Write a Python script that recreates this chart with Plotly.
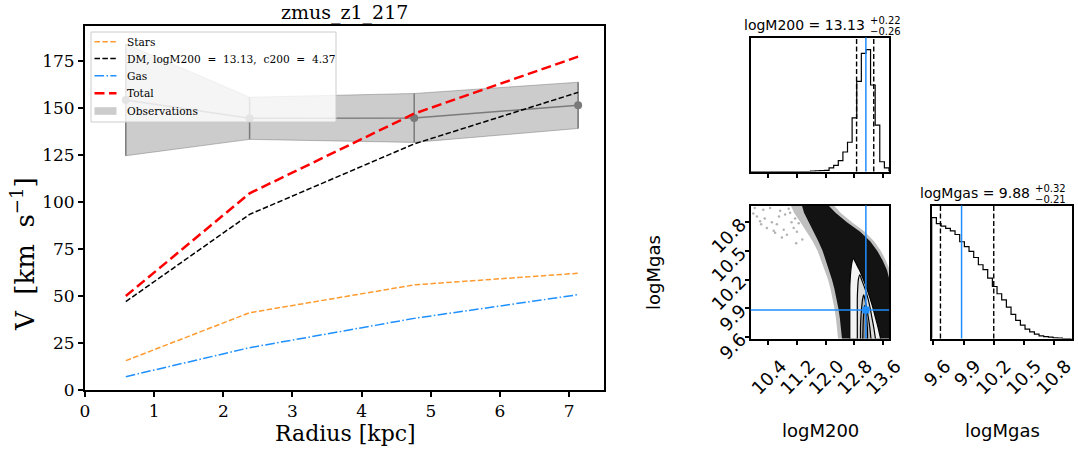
import numpy as np
import plotly.graph_objects as go

# ---------------- rotation curve (left panel) ----------------
radius = [0.59, 2.38, 4.76, 7.13]
v_stars = [15.6, 41.1, 55.9, 62.1]
v_dm = [47.0, 93.4, 130.9, 158.3]
v_gas = [7.1, 22.5, 38.1, 50.7]
v_total = [50.0, 104.6, 147.0, 177.3]
v_obs = [154.3, 144.5, 144.7, 151.4]
v_obs_err = [29.7, 11.2, 13.0, 12.3]
galaxy_name = "zmus_z1_217"
c200 = 4.37

# ---------------- posterior summaries ----------------
logm200_med, logm200_plus, logm200_minus = 13.13, 0.22, 0.26
logmgas_med, logmgas_plus, logmgas_minus = 9.88, 0.32, 0.21

logm200_range = [9.907, 13.777]
logmgas_range = [9.583, 10.975]
logm200_ticks = [10.4, 11.2, 12.0, 12.8, 13.6]
logmgas_ticks = [9.6, 9.9, 10.2, 10.5, 10.8]

# normalised 30-bin marginal histograms
hist_logm200 = [0, 0, 0, 0, 0, 0, 0, 0, 0, 0, 0, 0, 0, 0.003, 0.005,
                0.008, 0.01, 0.03, 0.05, 0.09, 0.16, 0.24, 0.44, 0.74, 0.97,
                1.0, 0.71, 0.38, 0.08, 0.03]
hist_logmgas = [1.0, 0.95, 0.93, 0.91, 0.89, 0.86, 0.80, 0.76, 0.72, 0.67,
                0.61, 0.57, 0.50, 0.43, 0.37, 0.32, 0.26, 0.20, 0.15, 0.11,
                0.077, 0.055, 0.036, 0.022, 0.016, 0.011, 0.005, 0.003, 0.0, 0.0]

# joint posterior: extent of the sample cloud per logMgas row
mgas_rows = [9.55, 9.7, 9.8, 9.9, 10.0, 10.1, 10.2, 10.3, 10.4, 10.5, 10.6, 10.7, 10.8, 10.9, 11.0]
dense_left = [12.47, 12.44, 12.40, 12.36, 12.31, 12.25, 12.18, 12.10, 12.02, 11.92, 11.80, 11.67, 11.53, 11.40, 11.32]
dense_right = [13.85, 13.85, 13.85, 13.85, 13.85, 13.83, 13.79, 13.72, 13.60, 13.45, 13.25, 12.97, 12.60, 12.28, 12.02]
sparse_left = [12.36, 12.33, 12.29, 12.25, 12.20, 12.14, 12.07, 11.98, 11.89, 11.78, 11.64, 11.48, 11.30, 11.12, 11.0]
sparse_right = [13.85, 13.85, 13.85, 13.85, 13.85, 13.85, 13.85, 13.80, 13.69, 13.55, 13.36, 13.10, 12.74, 12.42, 12.18]

# isolated samples in the low-mass tail
tail_logm200 = [9.98, 10.08, 10.17, 10.26, 10.36, 10.50, 10.64, 10.59, 10.73, 10.87,
                10.83, 10.92, 11.01, 11.15, 11.25, 11.11, 10.45, 10.20, 10.30, 10.70,
                11.05, 10.97, 11.20, 11.35, 10.02, 10.55, 10.78, 11.18]
tail_logmgas = [10.89, 10.86, 10.81, 10.93, 10.74, 10.80, 10.78, 10.69, 10.92, 10.88,
                10.72, 10.67, 10.90, 10.84, 10.79, 10.74, 10.95, 10.78, 10.84, 10.86,
                10.80, 10.94, 10.70, 10.62, 10.95, 10.71, 10.64, 10.58]

# credible contours (outer to inner): logMgas rows, left/right logM200, tip
c1_mgas = [9.55, 9.7, 9.8, 9.9, 10.0, 10.1, 10.2, 10.3, 10.38]
c1_left = [12.68, 12.68, 12.68, 12.68, 12.68, 12.68, 12.69, 12.71, 12.74]
c1_right = [13.56, 13.47, 13.40, 13.33, 13.25, 13.16, 13.06, 12.95, 12.84]
c1_tip = (12.78, 10.425)
c2_mgas = [9.55, 9.7, 9.8, 9.9, 10.0, 10.1, 10.2]
c2_left = [12.89, 12.89, 12.89, 12.89, 12.89, 12.90, 12.92]
c2_right = [13.41, 13.35, 13.30, 13.25, 13.19, 13.11, 13.01]
c2_tip = (12.96, 10.25)
c3_mgas = [9.55, 9.7, 9.8, 9.9, 10.0]
c3_left = [12.98, 12.98, 12.99, 13.01, 13.04]
c3_right = [13.28, 13.24, 13.20, 13.15, 13.10]
c3_tip = (13.07, 10.04)
c4_mgas = [9.55, 9.7, 9.8, 9.88]
c4_left = [13.04, 13.05, 13.06, 13.08]
c4_right = [13.18, 13.17, 13.15, 13.13]
c4_tip = (13.105, 9.93)

W, H = 1078, 450
BLUE = "#1f8fff"
SERIF = "DejaVu Serif"
SANS = "DejaVu Sans"
NB2 = "\u00a0\u00a0"

# line styles of the model components
styles = {
    "stars": dict(color="#ff9b30", width=1.5, dash="5.5px,2.4px"),
    "dm": dict(color="black", width=1.5, dash="5.5px,2.4px"),
    "gas": dict(color="#1e90ff", width=1.5, dash="9.6px,2.4px,1.5px,2.4px"),
    "total": dict(color="red", width=2.5, dash="10px,4.5px"),
}
obs_fill = "rgba(128,128,128,0.4)"


def px(x):
    return x / W


def py(y):
    return 1 - y / H


fig = go.Figure()

# ---------- left panel ----------
upper = [v + e for v, e in zip(v_obs, v_obs_err)]
lower = [v - e for v, e in zip(v_obs, v_obs_err)]
fig.add_trace(go.Scatter(
    x=radius + radius[::-1], y=upper + lower[::-1], mode="lines", fill="toself",
    fillcolor=obs_fill, line=dict(color="rgba(110,110,110,0.45)", width=1),
    name="Observations", showlegend=False, hoverinfo="skip"))
fig.add_trace(go.Scatter(
    x=radius, y=v_obs, mode="lines+markers", line=dict(color="#7a7a7a", width=1.5),
    marker=dict(size=8, color="#7a7a7a"),
    error_y=dict(type="data", array=v_obs_err, color="#7a7a7a", thickness=1.5, width=0),
    showlegend=False, hoverinfo="skip"))

dm_label = (f"DM, logM200{NB2}={NB2}{logm200_med:.2f},{NB2}c200{NB2}={NB2}{c200:.2f}")
series = [("Stars", v_stars, "stars"), (dm_label, v_dm, "dm"),
          ("Gas", v_gas, "gas"), ("Total", v_total, "total")]
for name, vals, key in series:
    fig.add_trace(go.Scatter(x=radius, y=vals, mode="lines", name=name,
                             line=styles[key], showlegend=False))


# ---------- marginal histograms ----------
def step_xy(edges, heights):
    xs = [edges[0]] + list(edges[:-1]) + [edges[-1]]
    ys = [0] + list(heights) + [0]
    return xs, ys


e_m200 = np.linspace(logm200_range[0], logm200_range[1], len(hist_logm200) + 1)
xs, ys = step_xy(e_m200, hist_logm200)
fig.add_trace(go.Scatter(x=xs, y=ys, mode="lines", line=dict(color="black", width=1.2, shape="hv"),
                         xaxis="x2", yaxis="y2", showlegend=False, hoverinfo="skip"))

e_mgas = np.linspace(logmgas_range[0], logmgas_range[1], len(hist_logmgas) + 1)
xs, ys = step_xy(e_mgas, hist_logmgas)
fig.add_trace(go.Scatter(x=xs, y=ys, mode="lines", line=dict(color="black", width=1.2, shape="hv"),
                         xaxis="x4", yaxis="y4", showlegend=False, hoverinfo="skip"))


# ---------- joint posterior ----------
def band_poly(rows, left, right, tip=None):
    xs = list(left) + ([tip[0]] if tip else []) + list(right)[::-1]
    ys = list(rows) + ([tip[1]] if tip else []) + list(rows)[::-1]
    return xs, ys


fig.add_trace(go.Scatter(x=tail_logm200, y=tail_logmgas, mode="markers",
                         marker=dict(size=2.5, color="rgba(0,0,0,0.3)"),
                         xaxis="x3", yaxis="y3", showlegend=False, hoverinfo="skip"))
xs, ys = band_poly(mgas_rows, sparse_left, sparse_right)
fig.add_trace(go.Scatter(x=xs, y=ys, fill="toself", fillcolor="rgba(0,0,0,0.25)", mode="lines",
                         line=dict(width=0), xaxis="x3", yaxis="y3",
                         showlegend=False, hoverinfo="skip"))
xs, ys = band_poly(mgas_rows, dense_left, dense_right)
fig.add_trace(go.Scatter(x=xs, y=ys, fill="toself", fillcolor="rgba(0,0,0,0.9)", mode="lines",
                         line=dict(width=0), xaxis="x3", yaxis="y3",
                         showlegend=False, hoverinfo="skip"))

contours = [
    (c1_mgas, c1_left, c1_right, c1_tip, "#f4f4f4"),
    (c2_mgas, c2_left, c2_right, c2_tip, "#dcdcdc"),
    (c3_mgas, c3_left, c3_right, c3_tip, "#b8b8b8"),
    (c4_mgas, c4_left, c4_right, c4_tip, "#8c8c8c"),
]
for rows, left, right, tip, col in contours:
    xs, ys = band_poly(rows, left, right, tip)
    fig.add_trace(go.Scatter(x=xs, y=ys, fill="toself", fillcolor=col, mode="lines",
                             line=dict(color="black", width=1.2, shape="spline", smoothing=0.6),
                             xaxis="x3", yaxis="y3", showlegend=False, hoverinfo="skip"))

fig.add_trace(go.Scatter(x=[logm200_med], y=[logmgas_med], mode="markers",
                         marker=dict(symbol="square", size=7, color=BLUE),
                         xaxis="x3", yaxis="y3", showlegend=False, hoverinfo="skip"))

# ---------- quantile / truth lines ----------
shapes = []
dash_q = dict(color="black", width=1.4, dash="5px,2.5px")
for v in (logm200_med - logm200_minus, logm200_med + logm200_plus):
    shapes.append(dict(type="line", xref="x2", yref="y2 domain", x0=v, x1=v, y0=0, y1=1, line=dash_q))
shapes.append(dict(type="line", xref="x2", yref="y2 domain", x0=logm200_med, x1=logm200_med,
                   y0=0, y1=1, line=dict(color=BLUE, width=1.5)))
for v in (logmgas_med - logmgas_minus, logmgas_med + logmgas_plus):
    shapes.append(dict(type="line", xref="x4", yref="y4 domain", x0=v, x1=v, y0=0, y1=1, line=dash_q))
shapes.append(dict(type="line", xref="x4", yref="y4 domain", x0=logmgas_med, x1=logmgas_med,
                   y0=0, y1=1, line=dict(color=BLUE, width=1.5)))
shapes.append(dict(type="line", xref="x3", yref="y3 domain", x0=logm200_med, x1=logm200_med,
                   y0=0, y1=1, line=dict(color=BLUE, width=1.5)))
shapes.append(dict(type="line", xref="x3 domain", yref="y3", x0=0, x1=1, y0=logmgas_med,
                   y1=logmgas_med, line=dict(color=BLUE, width=1.5)))

# ---------- legend box of the rotation-curve panel ----------
leg_x0, leg_x1, leg_y0, leg_y1 = 91, 336, 32, 122
shapes.append(dict(type="rect", xref="paper", yref="paper", x0=px(leg_x0), x1=px(leg_x1),
                   y0=py(leg_y1), y1=py(leg_y0), fillcolor="rgba(255,255,255,0.8)",
                   line=dict(color="#cccccc", width=1)))
leg_rows = [41.7, 58.5, 75.8, 93.3, 111.0]
hx0, hx1, tx = 94.5, 116.5, 124.5
for (name, _, key), yr in zip(series, leg_rows):
    shapes.append(dict(type="line", xref="paper", yref="paper", x0=px(hx0), x1=px(hx1),
                       y0=py(yr), y1=py(yr), line=styles[key]))
shapes.append(dict(type="rect", xref="paper", yref="paper", x0=px(hx0), x1=px(hx1),
                   y0=py(leg_rows[4] + 3.8), y1=py(leg_rows[4] - 3.8), fillcolor=obs_fill,
                   line=dict(width=0)))

# ---------- axes ----------
frame = dict(showline=True, linewidth=2, linecolor="black", mirror=True,
             showgrid=False, zeroline=False, ticks="outside", tickwidth=1.5,
             tickcolor="black", automargin=False)
left_dom_x = [px(85), px(603.7)]
left_dom_y = [py(390), py(26)]
cx_dom = [px(750.7), px(889)]
cx4_dom = [px(931.7), px(1071.7)]
top_dom_y = [py(171.5), py(37.5)]
bot_dom_y = [py(338.5), py(205.5)]

corner_tick_font = dict(family=SANS, size=18, color="black")

fig.update_layout(
    width=W, height=H, margin=dict(l=0, r=0, t=0, b=0, pad=0, autoexpand=False),
    paper_bgcolor="white", plot_bgcolor="white", showlegend=False,
    xaxis=dict(domain=left_dom_x, anchor="y", range=[0, 7.5], tickvals=list(range(8)),
               ticklen=5, tickfont=dict(family=SERIF, size=17, color="black"), **frame),
    yaxis=dict(domain=left_dom_y, anchor="x", range=[0, 193.6], tickvals=list(range(0, 176, 25)),
               ticklen=5, tickfont=dict(family=SERIF, size=17, color="black"), **frame),
    xaxis2=dict(domain=cx_dom, anchor="y2", range=logm200_range, tickvals=logm200_ticks,
                showticklabels=False, ticklen=4, **frame),
    yaxis2=dict(domain=top_dom_y, anchor="x2", range=[0, 1.1], showticklabels=False,
                **{**frame, "ticks": ""}),
    xaxis3=dict(domain=cx_dom, anchor="y3", range=logm200_range, tickvals=logm200_ticks,
                ticktext=[f"{t:.1f}" for t in logm200_ticks], tickangle=-45, ticklen=4,
                ticklabelshift=13, ticklabelstandoff=4, tickfont=corner_tick_font, **frame),
    yaxis3=dict(domain=bot_dom_y, anchor="x3", range=logmgas_range, tickvals=logmgas_ticks,
                ticktext=[f"{t:.1f}" for t in logmgas_ticks], tickangle=-45, ticklen=4,
                tickfont=corner_tick_font, **frame),
    xaxis4=dict(domain=cx4_dom, anchor="y4", range=logmgas_range, tickvals=logmgas_ticks,
                ticktext=[f"{t:.1f}" for t in logmgas_ticks], tickangle=-45, ticklen=4,
                ticklabelshift=12, ticklabelstandoff=4, tickfont=corner_tick_font, **frame),
    yaxis4=dict(domain=bot_dom_y, anchor="x4", range=[0, 1.1], showticklabels=False,
                **{**frame, "ticks": ""}),
    shapes=shapes,
)


def ann(text, x, y, size, family, angle=0, xanchor="center", color="black"):
    return dict(text=text, x=px(x), y=py(y), xref="paper", yref="paper", showarrow=False,
                xanchor=xanchor, yanchor="middle", textangle=angle,
                font=dict(family=family, size=size, color=color))


annotations = [
    ann(galaxy_name, 344, 13, 19, SERIF),
    ann("Radius [kpc]", 345, 433, 22, SERIF),
    ann(f"V{NB2}[km{NB2}s<sup>−1</sup>]", 23, 254, 26, SERIF, angle=-90),
    ann(f"logM200 = {logm200_med:.2f}", 866.5, 25, 14, SANS, xanchor="right"),
    ann(f"+{logm200_plus:.2f}", 867.5, 21, 10, SANS, xanchor="left"),
    ann(f"−{logm200_minus:.2f}", 867.5, 31, 10, SANS, xanchor="left"),
    ann(f"logMgas = {logmgas_med:.2f}", 1031.7, 193, 14, SANS, xanchor="right"),
    ann(f"+{logmgas_plus:.2f}", 1032.5, 189, 10, SANS, xanchor="left"),
    ann(f"−{logmgas_minus:.2f}", 1032.5, 199, 10, SANS, xanchor="left"),
    ann("logM200", 820, 430, 18, SANS),
    ann("logMgas", 1002, 430, 18, SANS),
    ann("logMgas", 653, 273, 18, SANS, angle=-90),
]
# legend entries
for (name, _, _), yr in zip(series, leg_rows):
    annotations.append(ann(name, tx, yr, 10.6, SERIF, xanchor="left"))
annotations.append(ann("Observations", tx, leg_rows[4], 10.6, SERIF, xanchor="left"))
fig.update_layout(annotations=annotations)

fig.write_html("out.html")
